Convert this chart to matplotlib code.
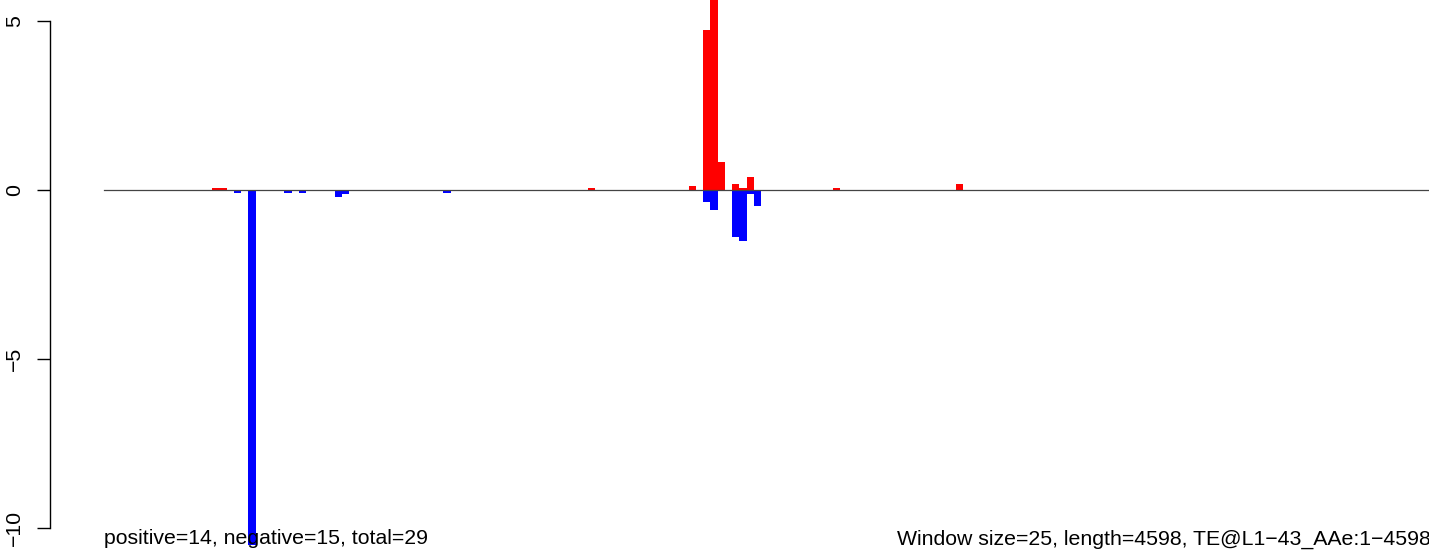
import numpy as np
import matplotlib
matplotlib.use("Agg")
import matplotlib.pyplot as plt

plt.rcParams['font.family'] = ['Liberation Sans', 'DejaVu Sans']

window = 25
length = 4598

# window index and score of each non-zero window
pos_idx = [15, 16, 67, 81, 83, 84, 85, 87, 88, 89, 101, 118]
pos_val = [0.07, 0.07, 0.06, 0.13, 4.73, 7.0, 0.83, 0.19, 0.06, 0.38, 0.06, 0.18]
neg_idx = [18, 20, 25, 27, 32, 33, 47, 83, 84, 87, 88, 89, 90]
neg_val = [-0.08, -10.5, -0.08, -0.08, -0.2, -0.13, -0.08, -0.36, -0.59, -1.38, -1.5, -0.13, -0.46]

yticks = [-10, -5, 0, 5]
left_text = "positive=14, negative=15, total=29"
right_text = "Window size=25, length=4598, TE@L1\u221243_AAe:1\u22124598"

W, H = 1429, 552
fig = plt.figure(figsize=(W / 100, H / 100), dpi=100)

ax_left = 50
ax = fig.add_axes([ax_left / W, 0, (W - ax_left) / W, 1])
pxbp = 7.22 / window          # pixels per bp
x0 = (104 - ax_left) / pxbp   # bp offset so that 0 lands at 104 px
ax.set_xlim(-x0, (W - ax_left) / pxbp - x0)
ax.set_ylim(-362 / 33.8, 190 / 33.8)

ax.bar(np.array(pos_idx) * window, pos_val, width=window, align='edge',
       color='#ff0000', linewidth=0)
ax.bar(np.array(neg_idx) * window, neg_val, width=window, align='edge',
       color='#0000ff', linewidth=0)
ax.plot([0, length + 200], [0, 0], color='#444444', lw=0.9, zorder=3)

for s in ['top', 'right', 'bottom']:
    ax.spines[s].set_visible(False)
ax.spines['left'].set_bounds(-10, 5)
ax.spines['left'].set_linewidth(1.0)
ax.set_xticks([])
ax.set_yticks(yticks)
ax.set_yticklabels([str(t).replace('-', '\u2212') for t in yticks],
                   rotation=90, va='center', fontsize=15.3)
ax.tick_params(axis='y', length=9.5, width=1.0, pad=9)

fig.text(104 / W, 1 - 539 / H, left_text, fontsize=15.3, va='center', ha='left')
fig.text(897 / W, 1 - 539 / H, right_text, fontsize=15.3, va='center', ha='left')

fig.savefig("out.png", dpi=100)
